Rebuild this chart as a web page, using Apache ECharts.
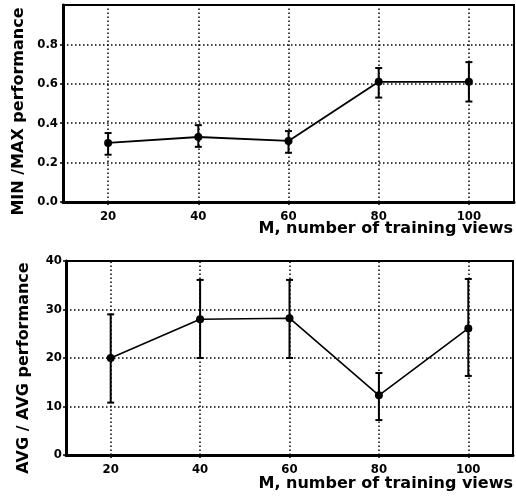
<!DOCTYPE html>
<html>
<head>
<meta charset="utf-8">
<script src="https://cdn.jsdelivr.net/npm/echarts@6/dist/echarts.min.js"></script>
<style>
html,body{margin:0;padding:0;background:#fff;}
#chart{width:516px;height:501px;}
</style>
</head>
<body>
<div id="chart"></div>
<script>
// ---- data ----
const mValues = [20, 40, 60, 80, 100];
const minMaxMean = [0.30, 0.33, 0.31, 0.61, 0.61];
const minMaxLow  = [0.24, 0.28, 0.25, 0.53, 0.51];
const minMaxHigh = [0.35, 0.39, 0.36, 0.68, 0.71];
const avgMean = [20, 28, 28.2, 12.3, 26.1];
const avgLow  = [10.8, 20, 20, 7.2, 16.3];
const avgHigh = [29, 36.1, 36.1, 16.9, 36.3];
const xTickLabels = ['20', '40', '60', '80', '100'];
const minMaxTickValues = [0, 0.2, 0.4, 0.6, 0.8];
const minMaxTickLabels = ['0.0', '0.2', '0.4', '0.6', '0.8'];
const avgTickValues = [0, 10, 20, 30, 40];
const avgTickLabels = ['0', '10', '20', '30', '40'];
const xTitle = 'M, number of training views';
const minMaxTitle = 'MIN /MAX performance';
const avgTitle = 'AVG / AVG performance';

const tickFont = "'DejaVu Sans Condensed', 'Liberation Sans Narrow', sans-serif";
const titleFont = "'DejaVu Sans', sans-serif";

const chart = echarts.init(document.getElementById('chart'), null, {renderer: 'canvas'});

function errRender(params, api) {
  const x = api.value(0), lo = api.value(1), hi = api.value(2);
  const pLo = api.coord([x, lo]);
  const pHi = api.coord([x, hi]);
  const w = 3.5;
  const st = {stroke: '#000', lineWidth: 2};
  return {type: 'group', children: [
    {type: 'line', shape: {x1: pLo[0], y1: pLo[1], x2: pHi[0], y2: pHi[1]}, style: st},
    {type: 'line', shape: {x1: pLo[0] - w, y1: pLo[1], x2: pLo[0] + w, y2: pLo[1]}, style: st},
    {type: 'line', shape: {x1: pHi[0] - w, y1: pHi[1], x2: pHi[0] + w, y2: pHi[1]}, style: st}
  ]};
}

function xAxisCfg(gridIndex) {
  return {
    type: 'value', gridIndex: gridIndex, min: 10, max: 110, interval: 10,
    axisLine: {show: true, onZero: false, lineStyle: {color: '#000', width: 3}},
    axisTick: {show: true, length: 3, customValues: mValues, lineStyle: {color: '#000', width: 1.5}},
    splitLine: {show: false},
    axisLabel: {
      color: '#000', fontFamily: tickFont, fontWeight: 'bold', fontSize: 13, margin: 8,
      customValues: mValues,
      formatter: function (v) { const i = mValues.indexOf(v); return i >= 0 ? xTickLabels[i] : ''; }
    }
  };
}

function yAxisCfg(gridIndex, max, interval, tickValues, tickLabels, name, nameGap, pad, labelMargin) {
  return {
    type: 'value', gridIndex: gridIndex, min: 0, max: max, interval: interval,
    name: name, nameLocation: 'middle', nameRotate: 90, nameGap: nameGap,
    nameTextStyle: {color: '#000', fontFamily: titleFont, fontWeight: 'bold', fontSize: 16, padding: pad},
    axisLine: {show: true, lineStyle: {color: '#000', width: 3}},
    axisTick: {show: true, length: 3, customValues: tickValues, lineStyle: {color: '#000', width: 1.5}},
    splitLine: {show: true, lineStyle: gridLine},
    axisLabel: {
      color: '#000', fontFamily: tickFont, fontWeight: 'bold', fontSize: 13, margin: labelMargin,
      customValues: tickValues,
      formatter: function (v) {
        for (let i = 0; i < tickValues.length; i++) {
          if (Math.abs(tickValues[i] - v) < 1e-9) return tickLabels[i];
        }
        return '';
      }
    }
  };
}

const gridLine = {type: [1.5, 2.5], color: '#000', width: 1.5};

function vGrid() {
  return {
    silent: true, symbol: ['none', 'none'], label: {show: false},
    lineStyle: gridLine, emphasis: {disabled: true},
    data: mValues.map(v => ({xAxis: v}))
  };
}

const option = {
  animation: false,
  backgroundColor: '#fff',
  grid: [
    {left: 63, top: 5, width: 451, height: 197, show: true, borderColor: '#000', borderWidth: 2},
    {left: 66, top: 261, width: 447, height: 194, show: true, borderColor: '#000', borderWidth: 2}
  ],
  xAxis: [xAxisCfg(0), xAxisCfg(1)],
  yAxis: [
    yAxisCfg(0, 1, 0.2, minMaxTickValues, minMaxTickLabels, minMaxTitle, 32, [0, 16, 0, 0], 5),
    yAxisCfg(1, 40, 10, avgTickValues, avgTickLabels, avgTitle, 34, [0, 20, 0, 0], 4)
  ],
  graphic: [
    {type: 'text', right: 3, top: 221, style: {text: xTitle, fill: '#000', font: 'bold 16px ' + titleFont}},
    {type: 'text', right: 3, top: 476, style: {text: xTitle, fill: '#000', font: 'bold 16px ' + titleFont}}
  ],
  series: [
    {
      type: 'line', xAxisIndex: 0, yAxisIndex: 0,
      data: mValues.map((m, i) => [m, minMaxMean[i]]),
      symbol: 'circle', symbolSize: 8, itemStyle: {color: '#000'},
      lineStyle: {color: '#000', width: 1.8}, z: 5,
      markLine: vGrid()
    },
    {
      type: 'custom', xAxisIndex: 0, yAxisIndex: 0, renderItem: errRender,
      encode: {x: 0, y: [1, 2]}, z: 4,
      data: mValues.map((m, i) => [m, minMaxLow[i], minMaxHigh[i]])
    },
    {
      type: 'line', xAxisIndex: 1, yAxisIndex: 1,
      data: mValues.map((m, i) => [m, avgMean[i]]),
      symbol: 'circle', symbolSize: 8, itemStyle: {color: '#000'},
      lineStyle: {color: '#000', width: 1.6}, z: 5,
      markLine: vGrid()
    },
    {
      type: 'custom', xAxisIndex: 1, yAxisIndex: 1, renderItem: errRender,
      encode: {x: 0, y: [1, 2]}, z: 4,
      data: mValues.map((m, i) => [m, avgLow[i], avgHigh[i]])
    }
  ]
};
chart.setOption(option);
</script>
</body>
</html>
